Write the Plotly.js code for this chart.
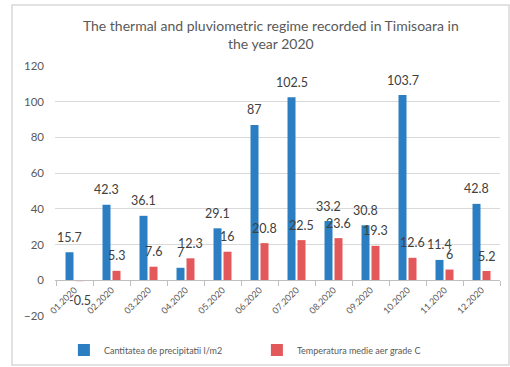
<!DOCTYPE html>
<html>
<head>
<meta charset="utf-8">
<script src="https://cdn.plot.ly/plotly-3.0.1.min.js"></script>
<style>
  html, body { margin: 0; padding: 0; background: #ffffff; }
  #chart { width: 510px; height: 367px; }
</style>
</head>
<body>
<div id="chart"></div>
<script>
// Monthly values for Timisoara, 2020
const months = ['01.2020', '02.2020', '03.2020', '04.2020', '05.2020', '06.2020',
                '07.2020', '08.2020', '09.2020', '10.2020', '11.2020', '12.2020'];
const precipitation = [15.7, 42.3, 36.1, 7, 29.1, 87, 102.5, 33.2, 30.8, 103.7, 11.4, 42.8];
const temperature = [-0.5, 5.3, 7.6, 12.3, 16, 20.8, 22.5, 23.6, 19.3, 12.6, 6, 5.2];

const FONT = 'Lato, "Open Sans", sans-serif';
const BLUE = '#2b7ec1';
const RED = '#e3585a';

const traces = [
  {
    type: 'bar',
    name: 'Cantitatea de precipitatii l/m2',
    x: months,
    y: precipitation,
    marker: { color: BLUE },
    hoverinfo: 'x+y'
  },
  {
    type: 'bar',
    name: 'Temperatura medie aer grade C',
    x: months,
    y: temperature,
    marker: { color: RED },
    hoverinfo: 'x+y'
  }
];

// Value labels a little above (or below, for negatives) each bar;
// on a category axis annotations are placed by category index.
function valueLabels(values, xshift) {
  return values.map((v, i) => ({
    x: i,
    y: v,
    xref: 'x',
    yref: 'y',
    text: String(v),
    showarrow: false,
    xshift: xshift,
    yshift: v >= 0 ? 15 : -19,
    xanchor: 'center',
    yanchor: 'middle',
    font: { family: FONT, size: 12.5, color: '#404040' }
  }));
}

const layout = {
  width: 510,
  height: 367,
  margin: { l: 55, r: 10, t: 66, b: 51, pad: 0, autoexpand: false },
  paper_bgcolor: '#ffffff',
  plot_bgcolor: '#ffffff',
  font: { family: FONT, color: '#595959' },
  title: {
    text: 'The thermal and pluviometric regime recorded in Timisoara in<br>the year 2020',
    font: { family: FONT, size: 14, color: '#595959' },
    x: 0.531,
    xanchor: 'center',
    y: 1 - 31 / 367,
    yanchor: 'top',
    yref: 'container'
  },
  barmode: 'group',
  bargap: 0.46,
  bargroupgap: 0.2,
  xaxis: {
    type: 'category',
    anchor: 'free',
    position: 20 / 140,
    showline: true,
    linecolor: '#bfbfbf',
    linewidth: 1,
    showgrid: false,
    ticks: 'outside',
    tickson: 'boundaries',
    ticklen: 5,
    tickcolor: '#bfbfbf',
    tickangle: -45,
    tickfont: { family: FONT, size: 9, color: '#595959' },
    fixedrange: true
  },
  yaxis: {
    range: [-20, 120],
    dtick: 20,
    tick0: 0,
    showgrid: true,
    gridcolor: '#d9d9d9',
    gridwidth: 1,
    zeroline: false,
    showline: false,
    ticks: '',
    ticklabelstandoff: 10,
    tickfont: { family: FONT, size: 11.5, color: '#595959' },
    fixedrange: true
  },
  showlegend: true,
  legend: {
    orientation: 'h',
    entrywidth: 148,
    entrywidthmode: 'pixels',
    x: 0.02,
    xanchor: 'left',
    y: -0.136,
    yanchor: 'middle',
    font: { family: FONT, size: 9, color: '#595959' },
    bgcolor: 'rgba(0,0,0,0)'
  },
  annotations: valueLabels(precipitation, -5).concat(valueLabels(temperature, 5)),
  shapes: [
    {
      type: 'rect',
      xref: 'paper', yref: 'paper',
      x0: (12 - 55) / 445, x1: (509 - 55) / 445,
      y0: (316 - 365) / 250, y1: (316 - 5) / 250,
      line: { color: '#d9d9d9', width: 1.5 },
      fillcolor: 'rgba(0,0,0,0)',
      layer: 'below'
    }
  ]
};

Plotly.newPlot('chart', traces, layout, { displayModeBar: false, staticPlot: true });
</script>
</body>
</html>
